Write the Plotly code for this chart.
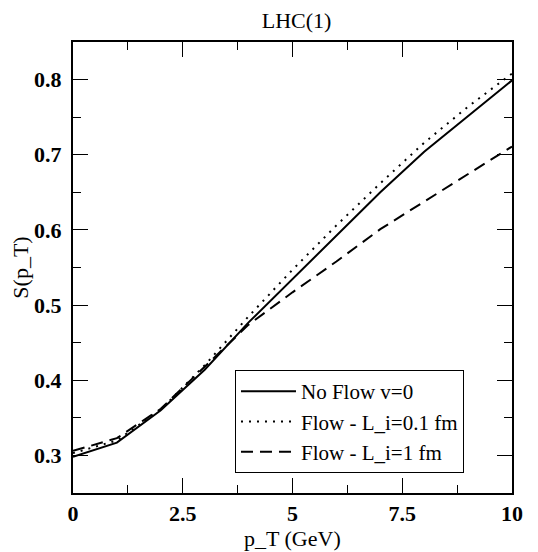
import plotly.graph_objects as go

pt = [0, 1, 2, 3, 4, 5, 6, 7, 8, 9, 10]
no_flow = [0.298, 0.317, 0.360, 0.414, 0.477, 0.535, 0.592, 0.650, 0.704, 0.752, 0.799]
flow_01 = [0.303, 0.320, 0.361, 0.420, 0.485, 0.547, 0.606, 0.662, 0.716, 0.764, 0.808]
flow_1 = [0.306, 0.323, 0.362, 0.418, 0.474, 0.517, 0.558, 0.601, 0.638, 0.674, 0.711]

x_ticks = [0, 2.5, 5, 7.5, 10]
x_labels = ["0", "2.5", "5", "7.5", "10"]
y_ticks = [0.3, 0.4, 0.5, 0.6, 0.7, 0.8]
y_labels = ["0.3", "0.4", "0.5", "0.6", "0.7", "0.8"]

serif = "Liberation Serif"

fig = go.Figure()
fig.add_trace(go.Scatter(x=pt, y=no_flow, mode="lines", name="No Flow v=0",
                         line=dict(color="black", width=2, dash="solid")))
fig.add_trace(go.Scatter(x=pt, y=flow_01, mode="lines", name="Flow - L_i=0.1 fm",
                         line=dict(color="black", width=2, dash="2px,6px")))
fig.add_trace(go.Scatter(x=pt, y=flow_1, mode="lines", name="Flow - L_i=1 fm",
                         line=dict(color="black", width=2, dash="12px,7px")))

axis_common = dict(
    showgrid=False, zeroline=False, showline=True, linecolor="#000000", linewidth=2,
    mirror="allticks", ticks="inside", ticklen=15, tickwidth=1, tickcolor="#000000",
    tickfont=dict(family=serif, size=22, color="black"), automargin=False,
)

fig.update_xaxes(**axis_common, range=[0, 10], tickvals=x_ticks,
                 ticktext=["<b>%s</b>" % t for t in x_labels],
                 minor=dict(ticks="inside", ticklen=8, tickwidth=1, tickcolor="#000000", dtick=1.25))
fig.update_yaxes(**axis_common, range=[0.25, 0.85], tickvals=y_ticks,
                 ticktext=["<b>%s</b>" % t for t in y_labels], ticklabelstandoff=5,
                 minor=dict(ticks="inside", ticklen=8, tickwidth=1, tickcolor="#000000", dtick=0.05),
                 title=dict(text="S(p_T)", font=dict(family=serif, size=22, color="black"), standoff=4))

fig.add_annotation(text="p_T (GeV)", xref="paper", yref="paper", x=0.5, y=-0.0998,
                   xanchor="center", yanchor="middle", showarrow=False,
                   font=dict(family=serif, size=22, color="black"))

fig.update_layout(
    width=530, height=544,
    margin=dict(l=65, r=26, t=34, b=59),
    paper_bgcolor="white", plot_bgcolor="white",
    title=dict(text="LHC(1)", x=0.5445, xanchor="center", y=0.977, yanchor="middle",
               font=dict(family=serif, size=22, color="black")),
    legend=dict(x=0.369, y=0.2727, xanchor="left", yanchor="top",
                bordercolor="black", borderwidth=1, bgcolor="white",
                font=dict(family=serif, size=21, color="black"),
                tracegroupgap=0, itemwidth=55),
    showlegend=True,
)

fig.write_html("out.html")
